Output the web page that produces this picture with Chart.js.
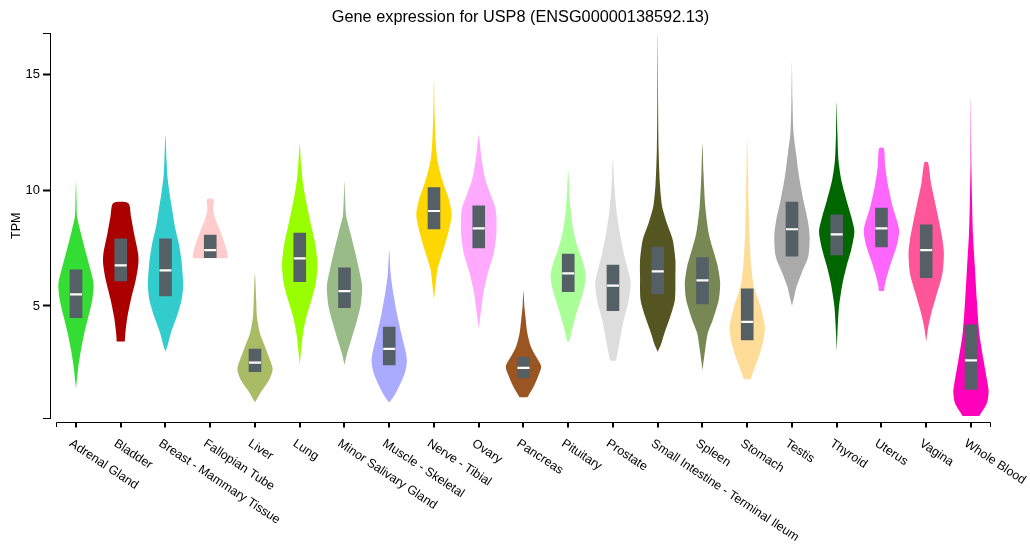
<!DOCTYPE html>
<html>
<head>
<meta charset="utf-8">
<script src="https://cdn.jsdelivr.net/npm/chart.js@4/dist/chart.umd.min.js"></script>
<style>
  body { margin: 0; background: #fff; }
  #wrap { width: 1030px; height: 547px; }
</style>
</head>
<body>
<div id="wrap"><canvas id="myChart" width="1030" height="547"></canvas></div>
<script>
// tissues and GTEx colours
const tissues = ["Adrenal Gland", "Bladder", "Breast - Mammary Tissue", "Fallopian Tube", "Liver", "Lung",
  "Minor Salivary Gland", "Muscle - Skeletal", "Nerve - Tibial", "Ovary", "Pancreas", "Pituitary", "Prostate",
  "Small Intestine - Terminal Ileum", "Spleen", "Stomach", "Testis", "Thyroid", "Uterus", "Vagina", "Whole Blood"];
const colors = ["#33dd33", "#aa0000", "#33cccc", "#ffcccc", "#aabb66", "#99ff00", "#99bb88", "#aaaaff", "#ffd700",
  "#ffaaff", "#995522", "#aaff99", "#dddddd", "#555522", "#778855", "#ffdd99", "#aaaaaa", "#006600", "#ff66ff",
  "#ff5599", "#ff00bb"];

// box: first quartile, median, third quartile (TPM)
const q1     = [4.49, 6.08, 5.43, 7.09, 2.16, 6.05, 4.93, 2.45, 8.33, 7.51, 1.90, 5.62, 4.80, 5.52, 5.09, 3.53, 7.16, 7.21, 7.55, 6.23, 1.39];
const median = [5.50, 6.76, 6.54, 7.42, 2.55, 7.06, 5.64, 3.14, 9.11, 8.36, 2.32, 6.41, 5.88, 6.50, 6.11, 4.31, 8.32, 8.10, 8.36, 7.42, 2.65];
const q3     = [6.56, 7.90, 7.90, 8.07, 3.14, 8.15, 6.65, 4.09, 10.12, 9.33, 2.78, 7.25, 6.77, 7.55, 7.09, 5.74, 9.50, 8.94, 9.24, 8.51, 4.18];

// violin outline: TPM levels (bottom to top) and relative density width at each level
const violinTPM = [
  [1.43, 2.37, 3.10, 3.82, 4.54, 5.26, 5.84, 6.13, 6.70, 7.28, 8.29, 8.87, 9.6, 10.41],
  [3.46, 3.82, 4.54, 5.26, 6.13, 6.85, 7.28, 8.15, 8.87, 9.45],
  [3.02, 3.38, 3.82, 4.54, 5.26, 5.84, 6.27, 6.99, 7.71, 8.44, 9.16, 9.88, 10.60, 11.32, 12.40],
  [7.06, 7.28, 7.57, 8.15, 8.72, 9.16, 9.62],
  [0.83, 1.08, 1.37, 1.80, 2.26, 2.66, 3.24, 3.82, 4.54, 5.26, 6.41],
  [2.45, 3.10, 3.82, 4.54, 5.26, 5.98, 6.85, 7.71, 8.44, 9.30, 10.17, 11.03, 12.0],
  [2.45, 2.95, 3.53, 4.25, 4.97, 5.69, 5.98, 6.70, 7.43, 8.15, 8.87, 9.6, 10.41],
  [0.82, 1.08, 1.51, 2.09, 2.59, 2.95, 3.82, 4.69, 5.55, 6.41, 7.42],
  [5.26, 5.98, 6.56, 7.28, 8.15, 8.94, 9.59, 10.45, 11.32, 12.19, 13.20, 14.78],
  [4.03, 4.69, 5.55, 6.41, 7.28, 8.15, 8.87, 9.30, 9.88, 10.45, 11.32, 12.05, 12.40],
  [1.05, 1.51, 1.94, 2.38, 2.81, 3.24, 3.82, 4.54, 5.0, 5.65],
  [3.46, 3.96, 4.69, 5.55, 6.27, 6.85, 7.57, 8.44, 9.59, 10.85],
  [2.63, 2.95, 3.53, 4.39, 5.26, 6.05, 6.70, 7.28, 8.15, 9.01, 10.17, 11.40],
  [3.02, 3.38, 3.82, 4.54, 5.26, 6.27, 6.99, 7.86, 8.58, 9.30, 10.31, 11.75, 13.91, 16.80],
  [2.23, 3.10, 3.82, 4.39, 5.26, 5.98, 6.70, 7.43, 8.15, 9.30, 10.74, 12.01],
  [1.83, 2.23, 2.81, 3.53, 4.10, 4.97, 5.84, 6.70, 8.15, 9.59, 11.03, 12.22],
  [5.0, 5.41, 5.84, 6.41, 7.14, 8.0, 8.72, 9.59, 10.60, 11.61, 12.48, 13.92, 15.61],
  [3.02, 3.82, 4.97, 5.98, 6.70, 7.43, 8.22, 8.87, 9.59, 10.45, 11.32, 12.48, 13.80],
  [5.65, 5.84, 6.27, 6.85, 7.57, 8.29, 9.30, 10.17, 11.03, 11.83],
  [3.46, 4.10, 4.69, 5.55, 6.41, 7.28, 7.86, 8.72, 9.59, 10.31, 11.22],
  [0.24, 0.79, 1.29, 1.65, 2.66, 3.82, 5.26, 6.70, 8.15, 9.59, 11.32, 14.03]
];
const violinWidth = [
  [0, .13, .28, .47, .70, .92, 1, .96, .77, .57, .23, .06, .03, 0],
  [.23, .26, .38, .57, .85, 1, .98, .75, .58, .43],
  [0, .15, .30, .64, .91, 1, .98, .90, .75, .53, .38, .23, .11, .06, 0],
  [.99, .97, .87, .61, .31, .16, .18],
  [0, .19, .42, .80, 1, .85, .57, .28, .11, .07, 0],
  [0, .08, .19, .38, .66, .91, 1, .87, .66, .42, .21, .09, 0],
  [0, .15, .38, .66, .90, 1, .98, .79, .57, .34, .10, .04, 0],
  [0, .25, .55, .88, 1, .95, .68, .43, .23, .08, 0],
  [0, .10, .19, .47, .80, 1, .85, .47, .19, .09, .04, 0],
  [0, .11, .26, .51, .85, 1, 1, .92, .64, .38, .17, .06, 0],
  [.22, .57, .82, 1, .71, .42, .22, .11, .05, 0],
  [.06, .21, .47, .82, 1, .85, .52, .25, .09, 0],
  [.17, .25, .39, .61, .90, 1, .80, .61, .39, .22, .08, 0],
  [0, .20, .38, .71, .97, 1, 1, .85, .52, .25, .12, .05, .02, 0],
  [0, .15, .30, .58, .92, 1, .87, .60, .35, .16, .06, 0],
  [.19, .38, .66, .92, 1, .75, .38, .23, .12, .07, .04, 0],
  [0, .13, .26, .54, .92, 1, .89, .64, .40, .23, .09, .03, 0],
  [0, .04, .13, .33, .55, .82, 1, .82, .55, .26, .10, .04, 0],
  [.15, .17, .30, .53, .85, 1, .63, .38, .21, .13],
  [0, .12, .29, .61, .92, 1, .92, .71, .47, .27, .10],
  [.47, .90, 1, .94, .71, .47, .33, .22, .11, .06, .02, 0]
];

const yTickValues = [5, 10, 15];
const yMin = 0.14, yMax = 16.8;

Chart.defaults.font.family = '"Liberation Sans", Arial, sans-serif';
Chart.defaults.color = '#000';

const halfWidth = 0.395; // half of the widest violin, in category units

// build closed outline: up the left side, down the right side
const outline = (i) => {
  const ys = violinTPM[i], ws = violinWidth[i];
  const left = ys.map((y, k) => ({x: i - halfWidth * ws[k], y}));
  let right = ys.map((y, k) => ({x: i + halfWidth * ws[k], y})).reverse();
  if (ws[ws.length - 1] === 0) right = right.slice(1);
  return left.concat(right);
};

const violinSets = tissues.map((t, i) => ({
  type: 'line',
  label: t,
  data: outline(i),
  backgroundColor: colors[i],
  borderColor: 'rgba(0,0,0,0)',
  borderWidth: 0,
  pointRadius: 0,
  tension: 0.25,
  fill: 'shape',
  order: 2
}));

const boxSet = {
  type: 'bar',
  label: 'IQR',
  data: tissues.map((t, i) => ({x: i, y: [q1[i], q3[i]]})),
  backgroundColor: '#555f66',
  barThickness: 12,
  order: 1
};

const medianSet = {
  type: 'scatter',
  label: 'median',
  data: tissues.map((t, i) => ({x: i, y: median[i]})),
  pointStyle: 'line',
  pointRadius: 6,
  pointBorderWidth: 2.2,
  pointBorderColor: '#fff',
  order: 0
};

// x axis drawn like a band axis: line, ticks and slanted labels
const bandAxis = {
  id: 'bandAxis',
  afterDraw(chart) {
    const {ctx, chartArea} = chart;
    const x = chart.scales.x;
    const y0 = Math.round(chartArea.bottom + 4) + 0.5;
    const xa = Math.round(x.getPixelForValue(-0.45)) + 0.5;
    const xb = Math.round(x.getPixelForValue(tissues.length - 0.55)) - 0.5;
    ctx.save();
    ctx.strokeStyle = '#000';
    ctx.lineWidth = 1;
    ctx.beginPath();
    ctx.moveTo(xa, y0 + 4.5);
    ctx.lineTo(xa, y0);
    ctx.lineTo(xb, y0);
    ctx.lineTo(xb, y0 + 4.5);
    ctx.stroke();
    ctx.lineWidth = 2;
    tissues.forEach((t, i) => {
      const px = Math.round(x.getPixelForValue(i));
      ctx.beginPath();
      ctx.moveTo(px, y0);
      ctx.lineTo(px, y0 + 5);
      ctx.stroke();
    });
    ctx.fillStyle = '#000';
    ctx.font = '12.5px "Liberation Sans", Arial, sans-serif';
    ctx.textAlign = 'left';
    ctx.textBaseline = 'alphabetic';
    tissues.forEach((t, i) => {
      const px = x.getPixelForValue(i);
      ctx.save();
      ctx.translate(px - 7.5, y0 + 22.8);
      ctx.rotate(33.5 * Math.PI / 180);
      ctx.fillText(t, 0, 0);
      ctx.restore();
    });
    ctx.restore();
  }
};

const ctx = document.getElementById('myChart').getContext('2d');
new Chart(ctx, {
  type: 'line',
  data: { datasets: [...violinSets, boxSet, medianSet] },
  options: {
    responsive: false,
    animation: false,
    layout: { padding: { left: 0, right: 38.9, top: 0, bottom: 128.7 } },
    plugins: {
      legend: { display: false },
      tooltip: { enabled: false },
      title: {
        display: true,
        fullSize: false,
        text: 'Gene expression for USP8 (ENSG00000138592.13)',
        font: { size: 16.3, weight: 'normal' },
        color: '#000',
        padding: { top: 8.2, bottom: 5.5 }
      }
    },
    scales: {
      x: {
        type: 'linear',
        display: false,
        offset: false,
        grid: { offset: false },
        min: -0.581,
        max: tissues.length - 0.55
      },
      y: {
        type: 'linear',
        min: yMin,
        max: yMax,
        afterFit: (scale) => { scale.width = 50; },
        afterBuildTicks: (scale) => {
          scale.ticks = [yMin, ...yTickValues, yMax].map(v => ({value: v}));
        },
        ticks: {
          autoSkip: false,
          padding: 3,
          font: { size: 13 },
          color: '#000',
          callback: (v) => yTickValues.includes(v) ? String(v) : ''
        },
        grid: {
          display: true,
          drawOnChartArea: false,
          drawTicks: true,
          tickLength: 7,
          tickColor: '#000',
          tickWidth: (c) => (c.tick && yTickValues.includes(c.tick.value)) ? 2 : 1
        },
        border: { display: true, color: '#000', width: 1 },
        title: {
          display: true,
          text: 'TPM',
          font: { size: 12.5 },
          color: '#000',
          padding: { top: 9.5, bottom: 0 }
        }
      }
    }
  },
  plugins: [bandAxis]
});
</script>
</body>
</html>
